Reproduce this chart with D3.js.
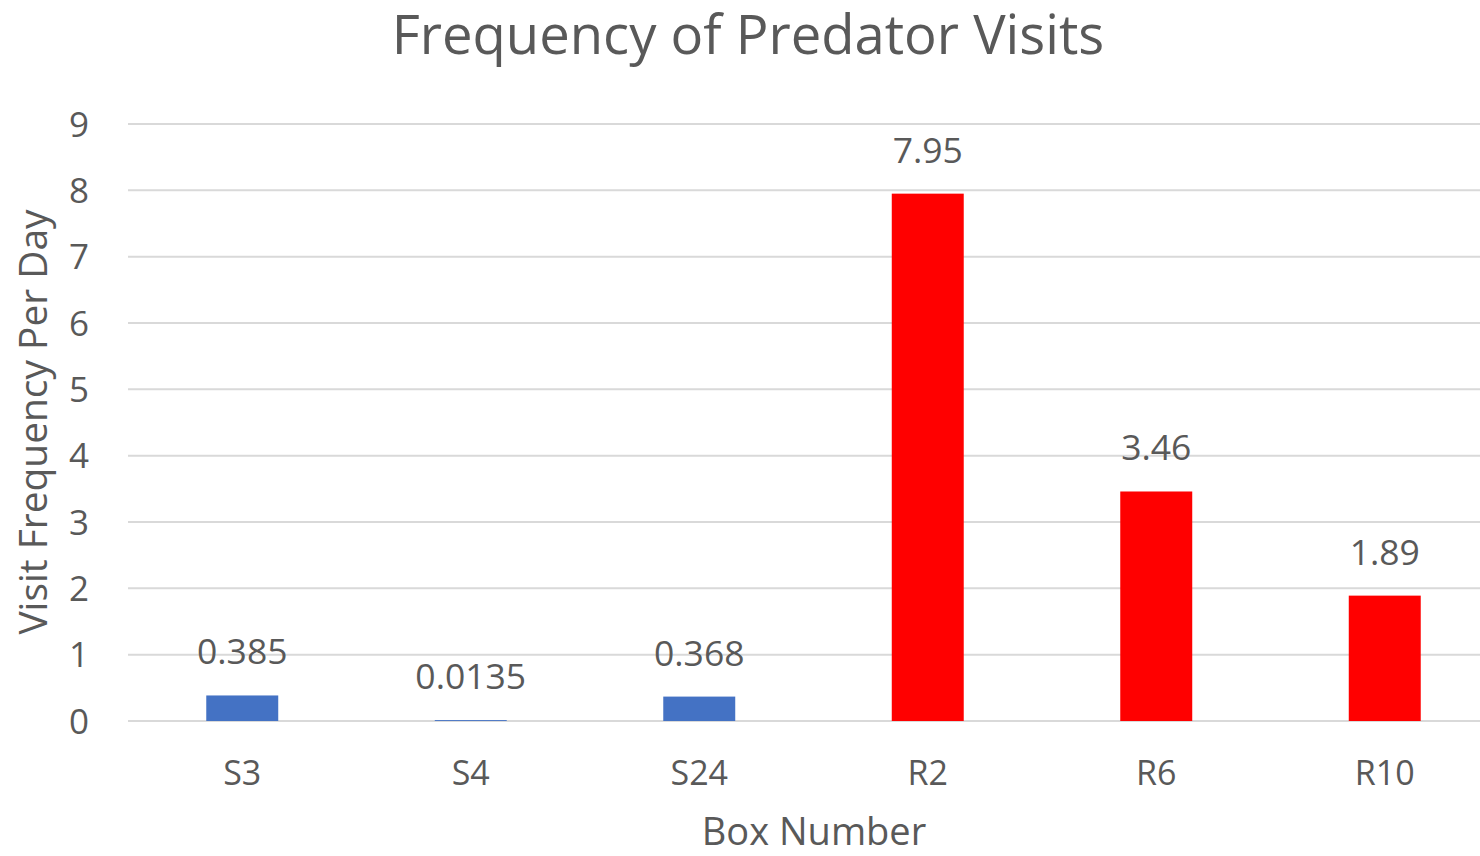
<!DOCTYPE html>
<html>
<head>
<meta charset="utf-8">
<script src="https://cdn.jsdelivr.net/npm/d3@7"></script>
<style>
  html, body { margin: 0; padding: 0; background: #fff; overflow: hidden; }
  svg { display: block; }
  text { font-family: "Open Sans", "Noto Sans", sans-serif; fill: #595959; }
</style>
</head>
<body>
<svg id="chart" width="1480" height="856"></svg>
<script>
// Visit frequency per day for each nest box
const boxes = ["S3", "S4", "S24", "R2", "R6", "R10"];
const visitFrequency = [0.385, 0.0135, 0.368, 7.95, 3.46, 1.89];
const valueLabels = ["0.385", "0.0135", "0.368", "7.95", "3.46", "1.89"];
const barColors = ["#4472C4", "#4472C4", "#4472C4", "#FF0000", "#FF0000", "#FF0000"];
const yTicks = [0, 1, 2, 3, 4, 5, 6, 7, 8, 9];

const svg = d3.select("#chart");

const plot = { left: 128, right: 1499, top: 124, bottom: 721 };

const x = d3.scaleBand()
  .domain(boxes)
  .range([plot.left, plot.right])
  .paddingInner(0.685)
  .paddingOuter(0.3425);

const y = d3.scaleLinear()
  .domain([0, 9])
  .range([plot.bottom, plot.top]);

// Horizontal gridlines
svg.append("g")
  .selectAll("line")
  .data(yTicks)
  .join("line")
  .attr("x1", plot.left)
  .attr("x2", 1480)
  .attr("y1", d => y(d))
  .attr("y2", d => y(d))
  .attr("stroke", "#d9d9d9")
  .attr("stroke-width", 2);

// Y axis tick labels
const yAxis = d3.axisLeft(y).tickValues(yTicks).tickSize(0).tickPadding(0);
const gy = svg.append("g")
  .attr("transform", `translate(89,0)`)
  .call(yAxis);
gy.select(".domain").remove();
gy.selectAll("text")
  .attr("font-size", 35)
  .attr("dy", "0.35em")
  .style("fill", "#595959")
  .style("font-family", '"Open Sans", sans-serif');

// Bars
svg.append("g")
  .selectAll("rect")
  .data(boxes)
  .join("rect")
  .attr("x", d => x(d))
  .attr("width", x.bandwidth())
  .attr("y", (d, i) => y(visitFrequency[i]))
  .attr("height", (d, i) => y(0) - y(visitFrequency[i]))
  .attr("fill", (d, i) => barColors[i]);

// Value labels above bars
svg.append("g")
  .selectAll("text")
  .data(boxes)
  .join("text")
  .attr("x", d => x(d) + x.bandwidth() / 2)
  .attr("y", (d, i) => y(visitFrequency[i]) - 31)
  .attr("text-anchor", "middle")
  .attr("font-size", 35.5)
  .text((d, i) => valueLabels[i]);

// X axis category labels
const xAxis = d3.axisBottom(x).tickSize(0).tickPadding(0);
const gx = svg.append("g")
  .attr("transform", `translate(0,${plot.bottom})`)
  .call(xAxis);
gx.select(".domain").remove();
gx.selectAll("text")
  .attr("y", 64)
  .attr("dy", 0)
  .attr("font-size", 34)
  .style("fill", "#595959")
  .style("font-family", '"Open Sans", sans-serif');

// Titles
svg.append("text")
  .attr("x", 748)
  .attr("y", 54)
  .attr("text-anchor", "middle")
  .attr("font-size", 54.4)
  .text("Frequency of Predator Visits");

svg.append("text")
  .attr("x", 814)
  .attr("y", 845)
  .attr("text-anchor", "middle")
  .attr("font-size", 38)
  .text("Box Number");

svg.append("text")
  .attr("transform", "translate(47,422) rotate(-90)")
  .attr("text-anchor", "middle")
  .attr("font-size", 38.9)
  .text("Visit Frequency Per Day");
</script>
</body>
</html>
